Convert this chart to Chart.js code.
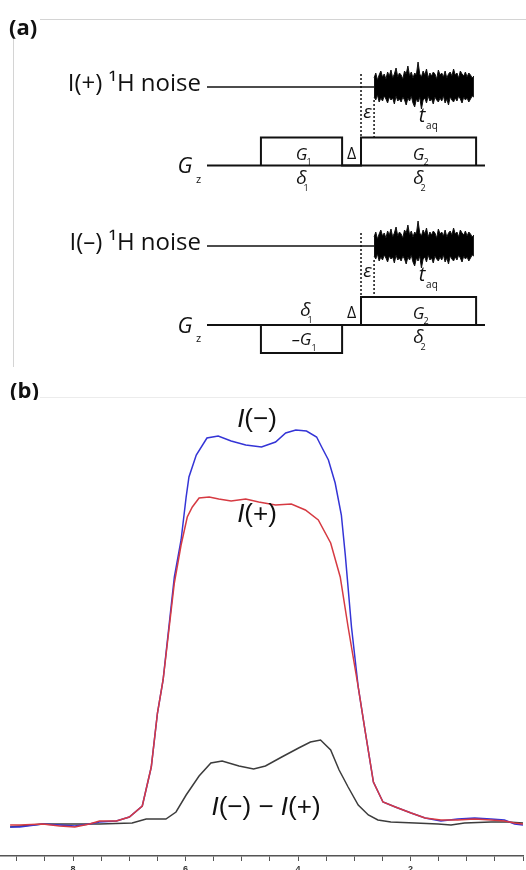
<!DOCTYPE html>
<html>
<head>
<meta charset="utf-8">
<script src="https://cdn.jsdelivr.net/npm/chart.js@4.4.1/dist/chart.umd.min.js"></script>
<style>
  html, body { margin: 0; padding: 0; background: #fff; overflow: hidden; }
  #seqChart { position: absolute; left: 0; top: 0; }
  #specChart { position: absolute; left: 0; top: 400px; }
</style>
</head>
<body>
<canvas id="seqChart" width="526" height="400"></canvas>
<canvas id="specChart" width="526" height="470"></canvas>
<script>
// (a) pulse sequence, time in arbitrary units (0..100 along the Gz line)
const seqStart = 0;
const seqEnd = 100;
const gradStart = [19.4, 55.4];
const gradEnd = [48.6, 96.8];
const gradAmpPlus = [1, 1];    // I(+) experiment
const gradAmpMinus = [-1, 1];  // I(-) experiment
const acqStart = 60.1;
const acqEnd = 96.0;
const noiseUp = [9, 14, 7, 12, 16, 10, 13, 8, 15, 11, 17, 9, 13, 19, 10, 14, 12, 8, 16, 13, 21, 11, 15, 9, 14, 12, 25, 13, 10, 16, 12, 18, 9, 14, 11, 15, 13, 8, 17, 12, 14, 10, 16, 9, 13, 15, 11, 18, 12, 14, 9, 16, 13, 11, 15, 10, 14, 12, 9, 11];
const noiseDown = [10, 13, 8, 15, 11, 14, 9, 12, 16, 10, 13, 11, 17, 9, 14, 12, 15, 10, 13, 18, 11, 14, 9, 16, 20, 12, 15, 10, 22, 13, 11, 16, 9, 14, 12, 17, 10, 13, 15, 11, 14, 9, 16, 12, 18, 10, 13, 15, 11, 14, 9, 12, 16, 10, 13, 11, 15, 12, 9, 10];
const rowLabels = ['I(+) \u00b9H noise', 'I(\u2013) \u00b9H noise'];

// (b) spectra: chemical shift (ppm) and intensity
const minusPpm = [9.12, 8.95, 8.54, 8.24, 7.97, 7.71, 7.53, 7.23, 7.00, 6.77, 6.61, 6.50, 6.40, 6.20, 6.08, 5.99, 5.94, 5.81, 5.62, 5.42, 5.19, 4.93, 4.65, 4.40, 4.22, 4.04, 3.85, 3.67, 3.58, 3.46, 3.34, 3.23, 3.16, 3.05, 2.93, 2.81, 2.66, 2.49, 2.27, 1.99, 1.74, 1.46, 1.16, 0.86, 0.57, 0.33, 0.15, 0.00];
const minusVal = [-3, -3, 0, -1, -2, 0, 2, 3, 7, 18, 57, 111, 144, 247, 284, 327, 347, 369, 386, 388, 383, 379, 377, 382, 391, 394, 393, 387, 377, 364, 341, 309, 269, 197, 137, 94, 42, 22, 17, 11, 6, 3, 5, 6, 5, 4, 0, -1];
const plusPpm = [9.12, 8.95, 8.54, 8.24, 7.97, 7.71, 7.53, 7.23, 7.00, 6.77, 6.61, 6.50, 6.40, 6.20, 6.08, 5.97, 5.88, 5.76, 5.58, 5.41, 5.19, 4.93, 4.70, 4.40, 4.12, 3.87, 3.64, 3.42, 3.25, 3.11, 2.93, 2.81, 2.66, 2.49, 2.27, 1.99, 1.74, 1.46, 1.16, 0.86, 0.57, 0.33, 0.15, 0.00];
const plusVal = [-1, -1, 0, -2, -3, 0, 3, 3, 7, 18, 57, 111, 144, 241, 279, 307, 317, 326, 327, 325, 323, 325, 322, 319, 320, 314, 304, 281, 247, 197, 137, 94, 42, 22, 17, 11, 6, 4, 4, 5, 4, 3, 1, 0];
const diffPpm = [9.12, 8.54, 7.83, 7.53, 6.95, 6.70, 6.35, 6.17, 5.99, 5.76, 5.55, 5.35, 5.05, 4.79, 4.58, 4.29, 3.99, 3.78, 3.60, 3.42, 3.27, 3.11, 2.93, 2.75, 2.58, 2.35, 1.92, 1.51, 1.28, 1.04, 0.57, 0.27, 0.00];
const diffVal = [-3, 0, 0, 0, 1, 5, 5, 12, 29, 48, 61, 63, 58, 55, 58, 67, 76, 82, 84, 74, 54, 37, 19, 9, 4, 2, 1, 0, -1, 1, 2, 2, 1];
const ppmTicks = [8, 6, 4, 2];

// layout of the sequence rows (pixel rows of the top canvas)
const rows = [
    { rf: 87, gz: 165.5, amp: gradAmpPlus, dash1: 74, dash2: 100 },
    { rf: 246, gz: 325, amp: gradAmpMinus, dash1: 233, dash2: 260 }
];
const GRAD_H = 28;

function xy(xs, ys) {
    return xs.map((x, i) => ({ x: x, y: ys[i] }));
}

function lineSet(data, width, dash) {
    return { data: data, borderColor: '#111', borderWidth: width, borderDash: dash || [], pointRadius: 0, tension: 0, fill: false };
}

function gradPoints(row) {
    let pts = [];
    for (let i = 0; i < gradStart.length; i++) {
        const top = row.gz - row.amp[i] * GRAD_H;
        pts.push({ x: gradStart[i], y: row.gz }, { x: gradStart[i], y: top }, { x: gradEnd[i], y: top }, { x: gradEnd[i], y: row.gz });
    }
    return pts;
}

function noisePoints(row, vals, sign) {
    const step = (acqEnd - acqStart) / (vals.length - 1);
    return vals.map((v, i) => ({ x: acqStart + i * step, y: row.rf + sign * v }));
}

let seqDatasets = [];
for (let row of rows) {
    seqDatasets.push(lineSet([{ x: seqStart, y: row.rf }, { x: acqStart, y: row.rf }], 1.5));
    seqDatasets.push(lineSet([{ x: seqStart, y: row.gz }, { x: seqEnd, y: row.gz }], 2));
    seqDatasets.push(lineSet(gradPoints(row), 2));
    seqDatasets.push(lineSet([{ x: gradStart[1], y: row.dash1 }, { x: gradStart[1], y: row.gz - GRAD_H }], 1.5, [2, 2]));
    seqDatasets.push(lineSet([{ x: acqStart, y: row.dash2 }, { x: acqStart, y: row.gz - GRAD_H }], 1.5, [2, 2]));
    let up = lineSet(noisePoints(row, noiseUp, -1), 1);
    let down = lineSet(noisePoints(row, noiseDown, 1), 1);
    down.fill = '-1';
    down.backgroundColor = '#000';
    seqDatasets.push(up, down);
}

function put(ctx, s, x, y, font, align) {
    ctx.font = font;
    ctx.textAlign = align || 'center';
    ctx.fillText(s, x, y);
}

const seqText = {
    id: 'seqText',
    afterDatasetsDraw(chart) {
        const ctx = chart.ctx;
        const X = v => chart.scales.x.getPixelForValue(v);
        ctx.save();
        // panel frame
        ctx.strokeStyle = '#d4d4d4';
        ctx.lineWidth = 1;
        ctx.beginPath();
        ctx.moveTo(40, 19.5); ctx.lineTo(526, 19.5);
        ctx.moveTo(13.5, 38); ctx.lineTo(13.5, 367);
        ctx.stroke();
        ctx.strokeStyle = '#ececec';
        ctx.beginPath();
        ctx.moveTo(40, 397.5); ctx.lineTo(526, 397.5);
        ctx.stroke();

        ctx.fillStyle = '#111';
        ctx.textBaseline = 'alphabetic';
        put(ctx, '(a)', 9, 35, 'bold 22px "Open Sans"', 'left');
        put(ctx, '(b)', 10, 398, 'bold 22px "Open Sans"', 'left');

        const gMid = (X(gradStart[0]) + X(gradEnd[0])) / 2;
        const g2Mid = (X(gradStart[1]) + X(gradEnd[1])) / 2;
        const dMid = (X(gradEnd[0]) + X(gradStart[1])) / 2;
        const eps = (X(gradStart[1]) + X(acqStart)) / 2;
        const tAq = X(acqStart) + 48;

        rows.forEach((row, r) => {
            put(ctx, rowLabels[r], X(seqStart) - 6, row.rf + 4, '24px "Open Sans"', 'right');
            put(ctx, 'G', 185, row.gz + 7.5, 'italic 22px "Open Sans"');
            put(ctx, 'z', 196, row.gz + 17, '11px "Open Sans"', 'left');
            put(ctx, '\u03b5', eps, row.rf + 31, 'italic 19px "Open Sans"');
            put(ctx, 't', tAq, row.rf + 35, 'italic 20px "Open Sans"');
            put(ctx, 'aq', tAq + 4, row.rf + 42, '10px "Open Sans"', 'left');
            // G2 above line, delta2 below
            put(ctx, 'G', g2Mid, row.gz - 6, 'italic 17px "Open Sans"');
            put(ctx, '2', g2Mid + 5, row.gz - 1, '9px "Open Sans"', 'left');
            put(ctx, '\u03b4', g2Mid, row.gz + 18, 'italic 19px "Open Sans"');
            put(ctx, '2', g2Mid + 2, row.gz + 25, '9px "Open Sans"', 'left');
            put(ctx, '\u0394', dMid, row.gz - 7, '16px "Open Sans"');
            if (row.amp[0] > 0) {
                put(ctx, 'G', gMid, row.gz - 6, 'italic 17px "Open Sans"');
                put(ctx, '1', gMid + 5, row.gz - 1, '9px "Open Sans"', 'left');
                put(ctx, '\u03b4', gMid, row.gz + 18, 'italic 19px "Open Sans"');
                put(ctx, '1', gMid + 2, row.gz + 25, '9px "Open Sans"', 'left');
            } else {
                put(ctx, '\u03b4', gMid + 4, row.gz - 9, 'italic 19px "Open Sans"');
                put(ctx, '1', gMid + 6, row.gz - 2, '9px "Open Sans"', 'left');
                put(ctx, '\u2013G', gMid, row.gz + 20, 'italic 17px "Open Sans"');
                put(ctx, '1', gMid + 10, row.gz + 26, '9px "Open Sans"', 'left');
            }
        });
        ctx.restore();
    }
};

new Chart(document.getElementById('seqChart'), {
    type: 'line',
    data: { datasets: seqDatasets },
    options: {
        responsive: false,
        animation: false,
        events: [],
        layout: { padding: 0 },
        plugins: { legend: { display: false }, tooltip: { enabled: false } },
        scales: {
            x: { type: 'linear', display: false, min: -74.46, max: 114.75 },
            y: { type: 'linear', display: false, min: 0, max: 400, reverse: true }
        }
    },
    plugins: [seqText]
});

// mixed italic/upright label, centred on x
function mixed(ctx, parts, cx, y) {
    let w = 0;
    for (let p of parts) { ctx.font = p[1]; w += ctx.measureText(p[0]).width; }
    let x = cx - w / 2;
    ctx.textAlign = 'left';
    for (let p of parts) {
        ctx.font = p[1];
        ctx.fillText(p[0], x, y);
        x += ctx.measureText(p[0]).width;
    }
}

const IT = 'italic 26px "Liberation Sans"';
const UP = '26px "Liberation Sans"';

const specText = {
    id: 'specText',
    afterDraw(chart) {
        const ctx = chart.ctx;
        ctx.save();
        ctx.fillStyle = '#111';
        ctx.textBaseline = 'alphabetic';
        mixed(ctx, [['I', IT], ['(\u2212)', UP]], 257, 27);
        mixed(ctx, [['I', IT], ['(+)', UP]], 257, 122);
        mixed(ctx, [['I', IT], ['(\u2212) \u2212 ', UP], ['I', IT], ['(+)', UP]], 266, 415);
        ctx.restore();
    }
};

new Chart(document.getElementById('specChart'), {
    type: 'line',
    data: {
        datasets: [
            { label: 'I(+)', data: xy(plusPpm, plusVal), borderColor: 'rgb(214, 58, 66)', borderWidth: 1.5, pointRadius: 0, tension: 0, order: 0 },
            { label: 'I(-)', data: xy(minusPpm, minusVal), borderColor: 'rgb(52, 52, 214)', borderWidth: 1.5, pointRadius: 0, tension: 0, order: 1 },
            { label: 'I(-) - I(+)', data: xy(diffPpm, diffVal), borderColor: 'rgb(60, 60, 60)', borderWidth: 1.5, pointRadius: 0, tension: 0, order: 2 }
        ]
    },
    options: {
        responsive: false,
        animation: false,
        events: [],
        layout: { padding: { top: 10, left: 0, right: 0, bottom: 0 } },
        plugins: { legend: { display: false }, tooltip: { enabled: false } },
        scales: {
            x: {
                type: 'linear',
                reverse: true,
                min: 0,
                max: 9.3,
                afterFit: function (scale) { scale.height = 14; },
                border: { display: true, color: '#555', width: 1.5 },
                grid: { drawOnChartArea: false, drawTicks: true, tickLength: 5, color: '#555' },
                ticks: {
                    stepSize: 0.5,
                    includeBounds: false,
                    autoSkip: false,
                    maxRotation: 0,
                    padding: 3,
                    color: '#333',
                    font: { family: 'Liberation Sans', size: 9, weight: 'bold' },
                    callback: v => ppmTicks.includes(v) ? String(v) : ''
                }
            },
            y: { type: 'linear', display: false, min: -32, max: 414 }
        }
    },
    plugins: [specText]
});
</script>
</body>
</html>
